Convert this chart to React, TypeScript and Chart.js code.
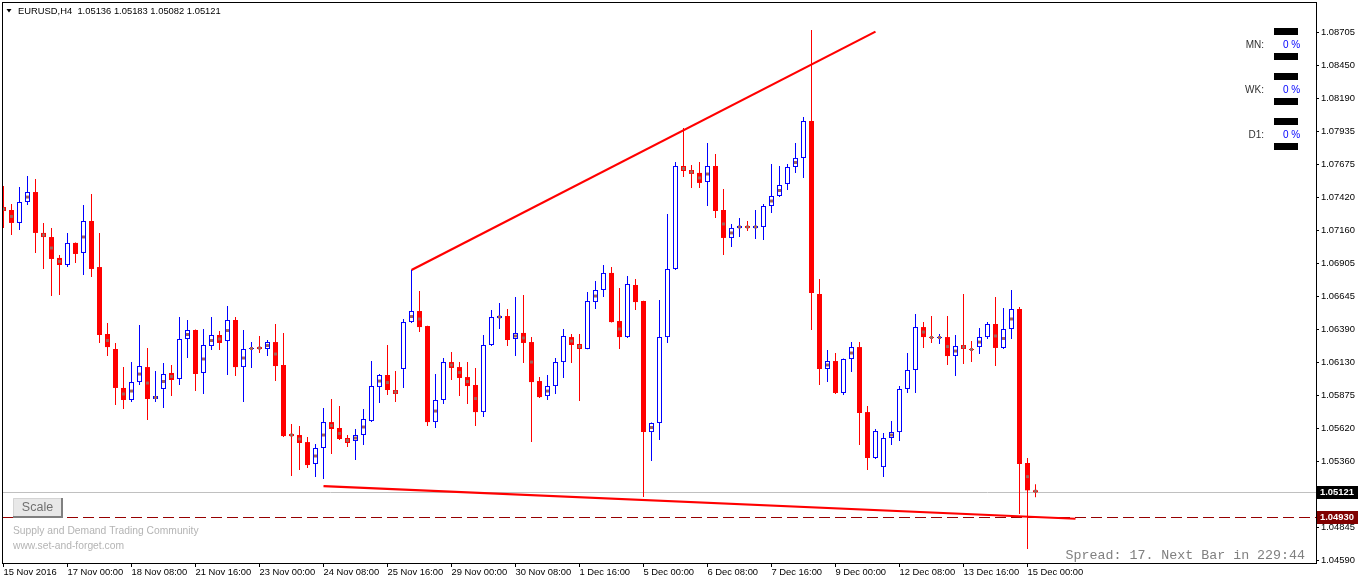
import React, { useEffect, useRef } from "react";
import { Chart, registerables } from "chart.js";

Chart.register(...registerables);

const FONT = '"Liberation Sans", Arial, sans-serif';

const symbolTitle = "EURUSD,H4";
const headerOHLC = ["1.05136", "1.05183", "1.05082", "1.05121"];

const opens = [
  1.07345, 1.07322, 1.07221, 1.07384, 1.07462, 1.07143, 1.07111, 1.06948, 1.06893, 1.07065,
  1.06987, 1.07236, 1.06877, 1.06355, 1.06238, 1.05934, 1.0584, 1.0598, 1.06097, 1.05848,
  1.05926, 1.06051, 1.06004, 1.06316, 1.06386, 1.06051, 1.06261, 1.06347, 1.063, 1.06464,
  1.06097, 1.06238, 1.06253, 1.06238, 1.06292, 1.06113, 1.05575, 1.05567, 1.05512, 1.05341,
  1.05466, 1.05668, 1.05622, 1.05544, 1.0552, 1.05567, 1.05676, 1.05941, 1.06035, 1.05918,
  1.06082, 1.06448, 1.06534, 1.06417, 1.05668, 1.0584, 1.06136, 1.06097, 1.06019, 1.05957,
  1.05746, 1.06269, 1.0648, 1.06495, 1.06316, 1.06363, 1.06292, 1.05988, 1.05871, 1.05949,
  1.06136, 1.06331, 1.06277, 1.06238, 1.06604, 1.06698, 1.06831, 1.06456, 1.06331, 1.06737,
  1.06612, 1.0559, 1.05661, 1.06331, 1.06862, 1.07665, 1.07634, 1.07611, 1.0754, 1.07665,
  1.07322, 1.07104, 1.07182, 1.07197, 1.07182, 1.07189, 1.07353, 1.07431, 1.07525, 1.07657,
  1.07728, 1.08016, 1.06667, 1.06082, 1.06144, 1.05895, 1.0616, 1.06253, 1.05746, 1.05388,
  1.05317, 1.05544, 1.0559, 1.05926, 1.06074, 1.06409, 1.06331, 1.06324, 1.06331, 1.06183,
  1.06269, 1.06238, 1.06253, 1.06331, 1.06433, 1.06246, 1.06394, 1.0655, 1.05349, 1.05136,
];

const highs = [
  1.07509, 1.07369, 1.07501, 1.07587, 1.07564, 1.07221, 1.07182, 1.06971, 1.07143, 1.07068,
  1.07361, 1.07447, 1.07143, 1.06441, 1.06285, 1.06097, 1.06136, 1.06425, 1.06246, 1.06066,
  1.06129, 1.06113, 1.06487, 1.06464, 1.06389, 1.06394, 1.06487, 1.06378, 1.06573, 1.06487,
  1.06386, 1.06292, 1.06339, 1.06308, 1.06433, 1.06363, 1.05653, 1.05637, 1.05551, 1.05497,
  1.05778, 1.05848, 1.05793, 1.05567, 1.05614, 1.0577, 1.06144, 1.06043, 1.06269, 1.06066,
  1.06472, 1.06854, 1.0669, 1.0642, 1.06043, 1.06168, 1.06214, 1.06136, 1.06136, 1.0609,
  1.06347, 1.06542, 1.06597, 1.0655, 1.06643, 1.06659, 1.06331, 1.06019, 1.06035, 1.06168,
  1.06394, 1.06355, 1.06355, 1.06682, 1.06768, 1.06893, 1.06877, 1.06714, 1.06807, 1.06784,
  1.06615, 1.05664, 1.0662, 1.07291, 1.07696, 1.07962, 1.07673, 1.07696, 1.07845, 1.07759,
  1.07486, 1.07213, 1.0726, 1.07236, 1.07322, 1.07369, 1.07681, 1.07665, 1.07681, 1.07845,
  1.08047, 1.08726, 1.06784, 1.0623, 1.06207, 1.06163, 1.06292, 1.06292, 1.05793, 1.05614,
  1.05583, 1.05676, 1.05949, 1.06207, 1.06511, 1.06448, 1.06495, 1.06355, 1.06495, 1.06347,
  1.06667, 1.063, 1.06402, 1.06448, 1.06643, 1.06558, 1.06698, 1.06565, 1.05388, 1.05183,
];

const lows = [
  1.07182, 1.07127, 1.07166, 1.07361, 1.06987, 1.06862, 1.06651, 1.06659, 1.06877, 1.06909,
  1.06815, 1.06799, 1.06285, 1.06183, 1.05801, 1.0577, 1.05824, 1.05957, 1.05684, 1.05824,
  1.05778, 1.05871, 1.05957, 1.06168, 1.0591, 1.05887, 1.0623, 1.0623, 1.06035, 1.06027,
  1.05824, 1.0609, 1.06207, 1.06183, 1.05988, 1.05551, 1.05247, 1.05294, 1.0531, 1.05239,
  1.05224, 1.05419, 1.05528, 1.05473, 1.05372, 1.05489, 1.05668, 1.05817, 1.05879, 1.05824,
  1.05934, 1.06441, 1.0637, 1.05637, 1.05622, 1.05809, 1.05996, 1.05871, 1.05809, 1.05637,
  1.05707, 1.06261, 1.06394, 1.06261, 1.06183, 1.06129, 1.05512, 1.05856, 1.0584, 1.05887,
  1.06012, 1.06129, 1.05832, 1.06235, 1.0655, 1.06643, 1.06445, 1.06238, 1.06324, 1.06542,
  1.05083, 1.05364, 1.05528, 1.06285, 1.06854, 1.07579, 1.07494, 1.07494, 1.07353, 1.0726,
  1.06971, 1.07033, 1.07111, 1.07158, 1.07096, 1.07088, 1.07299, 1.07423, 1.07478, 1.07611,
  1.07572, 1.06386, 1.05957, 1.0598, 1.05887, 1.05879, 1.06058, 1.05489, 1.05294, 1.0538,
  1.05239, 1.05489, 1.0552, 1.05895, 1.05895, 1.06246, 1.06285, 1.06277, 1.06113, 1.06027,
  1.06121, 1.06136, 1.06199, 1.06316, 1.06105, 1.06238, 1.06316, 1.04951, 1.04678, 1.05082,
];

const closes = [
  1.07314, 1.07221, 1.07384, 1.07462, 1.07143, 1.07111, 1.0694, 1.06893, 1.07065, 1.06979,
  1.07236, 1.06862, 1.06347, 1.06253, 1.05934, 1.0584, 1.0598, 1.06105, 1.05848, 1.05871,
  1.06043, 1.05996, 1.06316, 1.06386, 1.06043, 1.06269, 1.06347, 1.06285, 1.06464, 1.06097,
  1.06238, 1.06246, 1.06238, 1.06292, 1.06105, 1.05559, 1.05559, 1.05505, 1.05333, 1.05466,
  1.05668, 1.05614, 1.05536, 1.05505, 1.05567, 1.05692, 1.05949, 1.06035, 1.05918, 1.05887,
  1.06448, 1.06534, 1.06409, 1.05668, 1.0584, 1.06136, 1.0609, 1.06012, 1.05949, 1.05746,
  1.06269, 1.06487, 1.06495, 1.06308, 1.06363, 1.06285, 1.0598, 1.05863, 1.05949, 1.06136,
  1.06339, 1.06269, 1.06238, 1.06612, 1.06698, 1.06831, 1.06448, 1.06331, 1.06745, 1.06604,
  1.0559, 1.05661, 1.06331, 1.06862, 1.07665, 1.07626, 1.07603, 1.07533, 1.07665, 1.07314,
  1.07104, 1.07182, 1.07197, 1.07182, 1.07197, 1.07353, 1.07431, 1.07517, 1.07657, 1.07728,
  1.08016, 1.06675, 1.06082, 1.06144, 1.05895, 1.0616, 1.06253, 1.05739, 1.05388, 1.05598,
  1.05544, 1.0559, 1.05926, 1.06074, 1.06409, 1.06331, 1.06324, 1.06331, 1.06183, 1.06261,
  1.06238, 1.0623, 1.06331, 1.06433, 1.06246, 1.06394, 1.0655, 1.05341, 1.05136, 1.05121,
];

// bars carrying the small brown indicator mark (drawn at body middle)
const dotBars = [
  0, 1, 3, 5, 6, 7, 10, 13, 15, 16, 17, 18, 19, 20, 21, 23, 25, 26, 27, 28, 30, 31, 32, 33, 34,
  36, 37, 39, 40, 41, 42, 43, 44, 45, 47, 48, 49, 51, 52, 54, 56, 57, 58, 59, 62, 64, 65, 66, 68,
  71, 72, 74, 77, 81, 85, 86, 87, 88, 90, 91, 92, 93, 94, 96, 97, 99, 103, 106, 111, 115, 116,
  117, 118, 119, 120, 121, 122, 124, 125, 126, 128, 129,
];

const tickBars = [0, 8, 16, 24, 32, 40, 48, 56, 64, 72, 80, 88, 96, 104, 112, 120, 128];
const tickLabels = [
  "15 Nov 2016", "17 Nov 00:00", "18 Nov 08:00", "21 Nov 16:00", "23 Nov 00:00", "24 Nov 08:00",
  "25 Nov 16:00", "29 Nov 00:00", "30 Nov 08:00", "1 Dec 16:00", "5 Dec 00:00", "6 Dec 08:00",
  "7 Dec 16:00", "9 Dec 00:00", "12 Dec 08:00", "13 Dec 16:00", "15 Dec 00:00",
];

const priceTicks = [
  1.08705, 1.0845, 1.0819, 1.07935, 1.07675, 1.0742, 1.0716, 1.06905, 1.06645, 1.0639,
  1.0613, 1.05875, 1.0562, 1.0536, 1.04845, 1.0459,
];

const upperTrendX = [51, 109];
const upperTrendY = [1.06854, 1.08713];
const lowerTrendX = [40, 134];
const lowerTrendY = [1.05169, 1.04914];

const bidPrice = 1.05121;
const levelPrice = 1.0493;

const X_MIN = -0.1875;
const X_MAX = 164.0625;
const Y_MIN = 1.04569;
const Y_MAX = 1.08944;

const panelRows = ["MN:", "WK:", "D1:"];
const panelValues = ["0 %", "0 %", "0 %"];
const watermarkLines = ["Supply and Demand Trading Community", "www.set-and-forget.com"];
const spreadText = "Spread: 17. Next Bar in 229:44";

const overlayPlugin = {
  id: "mt4overlay",
  beforeDatasetsDraw(chart: any) {
    const { ctx, chartArea: a, scales } = chart;
    const ys = scales.y;
    ctx.save();
    // bid line (solid light grey)
    const by = Math.round(ys.getPixelForValue(bidPrice)) + 0.5;
    ctx.strokeStyle = "#c0c0c0";
    ctx.lineWidth = 1;
    ctx.beginPath();
    ctx.moveTo(a.left, by);
    ctx.lineTo(a.right, by);
    ctx.stroke();
    // level line (dashed dark red)
    const ly = Math.round(ys.getPixelForValue(levelPrice)) + 0.5;
    ctx.strokeStyle = "#960000";
    ctx.setLineDash([11, 5]);
    ctx.beginPath();
    ctx.moveTo(a.left + 1, ly);
    ctx.lineTo(a.right, ly);
    ctx.stroke();
    ctx.restore();
  },
  afterDraw(chart: any) {
    const { ctx, chartArea: a, scales } = chart;
    const ys = scales.y;
    ctx.save();

    // frame
    ctx.strokeStyle = "#000";
    ctx.lineWidth = 1;
    ctx.strokeRect(
      Math.round(a.left) + 0.5,
      Math.round(a.top) + 0.5,
      Math.round(a.right - a.left),
      Math.round(a.bottom - a.top)
    );

    // header
    ctx.fillStyle = "#000";
    ctx.beginPath();
    ctx.moveTo(6.5, 9);
    ctx.lineTo(11.5, 9);
    ctx.lineTo(9, 12.5);
    ctx.closePath();
    ctx.fill();
    ctx.font = `9.4px ${FONT}`;
    ctx.textBaseline = "middle";
    ctx.textAlign = "left";
    ctx.fillText(symbolTitle + "  " + headerOHLC.join(" "), 18, 11);

    // info panel
    panelRows.forEach((label, k) => {
      const base = 28 + k * 45;
      ctx.fillStyle = "#000";
      ctx.fillRect(1274, base, 24, 7);
      ctx.fillRect(1274, base + 25, 24, 7);
      ctx.font = `10px ${FONT}`;
      ctx.textAlign = "right";
      ctx.fillStyle = "#303030";
      ctx.fillText(label, 1264, base + 17.5);
      ctx.textAlign = "left";
      ctx.fillStyle = "#0000ff";
      ctx.fillText(panelValues[k], 1283, base + 17.5);
    });

    // price boxes on the axis
    const box = (price: number, bg: string) => {
      const py = Math.round(ys.getPixelForValue(price));
      ctx.fillStyle = bg;
      ctx.fillRect(Math.round(a.right) + 1, py - 6, chart.width - Math.round(a.right) - 1, 13);
      ctx.fillStyle = "#fff";
      ctx.font = `bold 9.4px ${FONT}`;
      ctx.textAlign = "left";
      ctx.textBaseline = "middle";
      ctx.fillText(price.toFixed(5), Math.round(a.right) + 4, py + 0.5);
    };
    box(bidPrice, "#000000");
    box(levelPrice, "#800000");

    // Scale button
    ctx.fillStyle = "#e8e8e8";
    ctx.fillRect(13, 498, 49, 19);
    ctx.strokeStyle = "#d4d4d4";
    ctx.beginPath();
    ctx.moveTo(13.5, 516);
    ctx.lineTo(13.5, 498.5);
    ctx.lineTo(61, 498.5);
    ctx.stroke();
    ctx.strokeStyle = "#808080";
    ctx.lineWidth = 2;
    ctx.beginPath();
    ctx.moveTo(62, 498);
    ctx.lineTo(62, 517);
    ctx.lineTo(13, 517);
    ctx.stroke();
    ctx.lineWidth = 1;
    ctx.fillStyle = "#707070";
    ctx.font = `12.5px ${FONT}`;
    ctx.textAlign = "center";
    ctx.fillText("Scale", 37.5, 508);

    // watermark
    ctx.fillStyle = "#b4b4b4";
    ctx.font = `10.3px ${FONT}`;
    ctx.textAlign = "left";
    ctx.fillText(watermarkLines[0], 13, 531.5);
    ctx.fillText(watermarkLines[1], 13, 546.5);

    // spread text
    ctx.fillStyle = "#808080";
    ctx.font = `13.3px "Liberation Mono", "Courier New", monospace`;
    ctx.textAlign = "right";
    ctx.fillText(spreadText, 1305, 555);

    ctx.restore();
  },
};

export default function App() {
  const ref = useRef<HTMLCanvasElement>(null);

  useEffect(() => {
    const canvas = ref.current;
    if (!canvas) return;
    const idx = opens.map((_, i) => i);
    const bull = idx.filter((i) => closes[i] > opens[i]);
    const bear = idx.filter((i) => closes[i] <= opens[i]);

    const barCommon = {
      type: "bar" as const,
      grouped: false,
      inflateAmount: 0,
      borderSkipped: false as const,
    };

    const chart = new Chart(canvas, {
      type: "bar",
      data: {
        datasets: [
          {
            type: "line",
            label: "marks",
            data: dotBars.map((i) => ({ x: i, y: (opens[i] + closes[i]) / 2 })),
            showLine: false,
            pointStyle: "rect",
            pointRadius: 2.1,
            pointBackgroundColor: "#a0645a",
            pointBorderWidth: 0,
            borderColor: "#a0645a",
            order: 0,
          } as any,
          {
            ...barCommon,
            label: "bullBody",
            data: bull.map((i) => ({ x: i, y: [opens[i], closes[i]] })),
            backgroundColor: "#ffffff",
            borderColor: "#0000ff",
            borderWidth: 1,
            barThickness: 5,
            maxBarThickness: 5,
            minBarLength: 1,
            order: 1,
          } as any,
          {
            ...barCommon,
            label: "bearBody",
            data: bear.map((i) => ({ x: i, y: [closes[i], opens[i]] })),
            backgroundColor: "#ff0000",
            borderWidth: 0,
            barThickness: 5,
            maxBarThickness: 5,
            minBarLength: 1,
            order: 1,
          } as any,
          {
            ...barCommon,
            label: "bullWick",
            data: bull.map((i) => ({ x: i, y: [lows[i], highs[i]] })),
            backgroundColor: "#0000ff",
            borderWidth: 0,
            barThickness: 1,
            maxBarThickness: 1,
            order: 2,
          } as any,
          {
            ...barCommon,
            label: "bearWick",
            data: bear.map((i) => ({ x: i, y: [lows[i], highs[i]] })),
            backgroundColor: "#ff0000",
            borderWidth: 0,
            barThickness: 1,
            maxBarThickness: 1,
            order: 2,
          } as any,
          {
            type: "line",
            label: "upperTrend",
            data: upperTrendX.map((x, k) => ({ x, y: upperTrendY[k] })),
            borderColor: "#ff0000",
            borderWidth: 2.2,
            pointRadius: 0,
            fill: false,
            order: 3,
          } as any,
          {
            type: "line",
            label: "lowerTrend",
            data: lowerTrendX.map((x, k) => ({ x, y: lowerTrendY[k] })),
            borderColor: "#ff0000",
            borderWidth: 2.2,
            pointRadius: 0,
            fill: false,
            order: 3,
          } as any,
        ],
      },
      options: {
        responsive: false,
        animation: false,
        devicePixelRatio: 1,
        events: [],
        layout: { autoPadding: false, padding: { left: 2, top: 2, right: 0, bottom: 0 } },
        plugins: {
          legend: { display: false },
          tooltip: { enabled: false },
        },
        scales: {
          x: {
            type: "linear",
            position: "bottom",
            min: X_MIN,
            max: X_MAX,
            bounds: "data",
            offset: false,
            afterBuildTicks: (s: any) => {
              s.ticks = tickBars.map((v) => ({ value: v }));
            },
            afterFit: (s: any) => {
              s.height = 21;
              s.paddingLeft = 0;
              s.paddingRight = 0;
              s.paddingTop = 0;
              s.paddingBottom = 0;
            },
            ticks: {
              autoSkip: false,
              maxRotation: 0,
              minRotation: 0,
              align: "start",
              padding: 0,
              color: "#000",
              font: { family: FONT, size: 9.4 },
              callback: (_v: any, i: number) => tickLabels[i],
            },
            grid: {
              display: true,
              offset: false,
              drawOnChartArea: false,
              drawTicks: true,
              tickLength: 4,
              tickColor: "#000",
              color: "#000",
            },
            border: { display: false },
          } as any,
          y: {
            type: "linear",
            position: "right",
            min: Y_MIN,
            max: Y_MAX,
            bounds: "data",
            beginAtZero: false,
            afterBuildTicks: (s: any) => {
              s.ticks = priceTicks.map((v) => ({ value: v }));
            },
            afterFit: (s: any) => {
              s.width = 42;
              s.paddingLeft = 0;
              s.paddingRight = 0;
              s.paddingTop = 0;
              s.paddingBottom = 0;
            },
            ticks: {
              autoSkip: false,
              padding: 2,
              crossAlign: "near",
              color: "#000",
              font: { family: FONT, size: 9.4 },
              callback: (v: any) => Number(v).toFixed(5),
            },
            grid: {
              display: true,
              drawOnChartArea: false,
              drawTicks: true,
              tickLength: 3,
              tickColor: "#000",
              color: "#000",
            },
            border: { display: false },
          } as any,
        },
      },
      plugins: [overlayPlugin],
    } as any);

    return () => chart.destroy();
  }, []);

  return (
    <div
      style={{
        position: "fixed",
        left: 0,
        top: 0,
        width: 1358,
        height: 584,
        background: "#ffffff",
      }}
    >
      <canvas ref={ref} width={1358} height={584} style={{ display: "block", width: 1358, height: 584 }} />
    </div>
  );
}
